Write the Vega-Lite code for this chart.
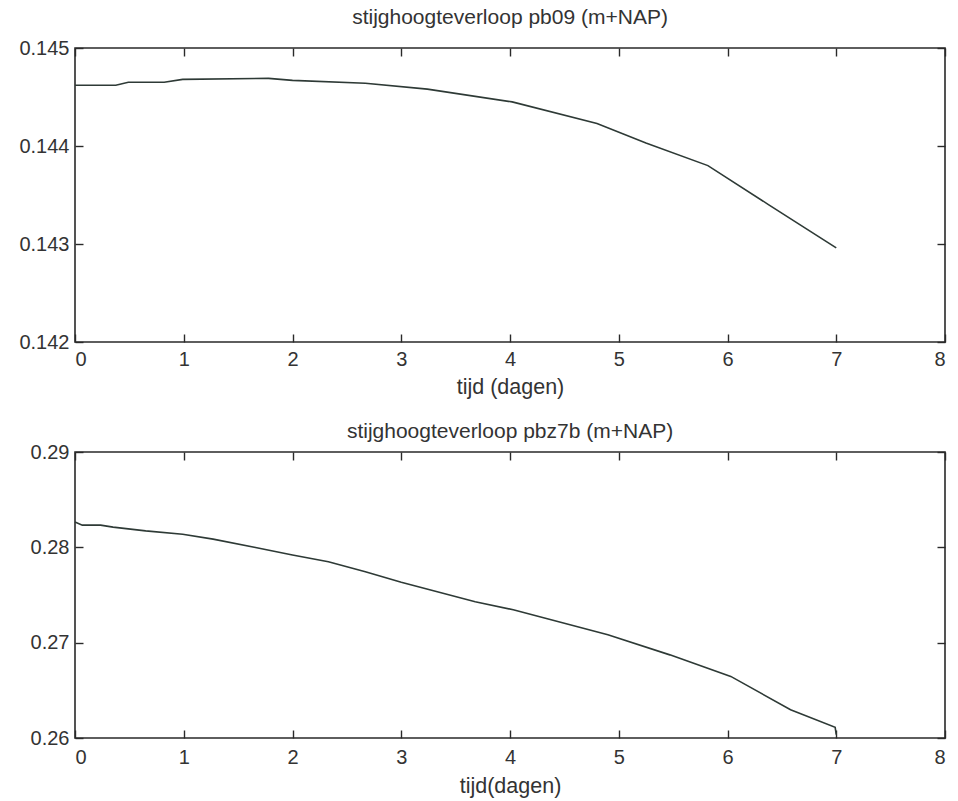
{
  "$schema": "https://vega.github.io/schema/vega-lite/v6.json",
  "padding": {"left": 18, "top": 6, "right": 8, "bottom": 0},
  "background": "white",
  "config": {
    "font": "Liberation Sans",
    "view": {"stroke": "#2a2a2a", "strokeWidth": 1.6},
    "axis": {
      "domain": false,
      "grid": false,
      "tickColor": "#2a2a2a",
      "tickWidth": 1.4,
      "tickSize": -8,
      "labelFont": "Liberation Sans",
      "labelFontSize": 20,
      "labelColor": "#333333",
      "titleFont": "Liberation Sans",
      "titleFontSize": 21.5,
      "titleFontWeight": "normal",
      "titleColor": "#333333"
    },
    "title": {"font": "Liberation Sans", "fontSize": 21, "fontWeight": "normal", "color": "#333333"}
  },
  "datasets": {
    "pb09": [
      {"t": 0.0, "h": 0.14462},
      {"t": 0.375, "h": 0.14462},
      {"t": 0.49, "h": 0.14465},
      {"t": 0.82, "h": 0.14465},
      {"t": 0.99, "h": 0.14468},
      {"t": 1.78, "h": 0.14469},
      {"t": 2.0, "h": 0.14467},
      {"t": 2.67, "h": 0.14464},
      {"t": 3.24, "h": 0.14458},
      {"t": 4.02, "h": 0.14445},
      {"t": 4.8, "h": 0.14423},
      {"t": 5.25, "h": 0.14403},
      {"t": 5.82, "h": 0.1438},
      {"t": 6.38, "h": 0.1434},
      {"t": 7.0, "h": 0.14296}
    ],
    "pbz7b": [
      {"t": 0.0, "h": 0.28265},
      {"t": 0.067, "h": 0.28233},
      {"t": 0.235, "h": 0.28233},
      {"t": 0.35, "h": 0.28212},
      {"t": 0.65, "h": 0.28173},
      {"t": 0.99, "h": 0.28138},
      {"t": 1.27, "h": 0.28086},
      {"t": 1.66, "h": 0.27999},
      {"t": 2.0, "h": 0.27919},
      {"t": 2.33, "h": 0.27849},
      {"t": 2.67, "h": 0.27744},
      {"t": 3.0, "h": 0.27633},
      {"t": 3.68, "h": 0.2743},
      {"t": 4.03, "h": 0.27345},
      {"t": 4.9, "h": 0.27082},
      {"t": 5.47, "h": 0.26872},
      {"t": 6.03, "h": 0.26646},
      {"t": 6.58, "h": 0.26297},
      {"t": 6.99, "h": 0.26112},
      {"t": 7.0, "h": 0.26035}
    ]
  },
  "vconcat": [
    {
      "title": {"text": "stijghoogteverloop pb09 (m+NAP)", "offset": 10},
      "width": 870,
      "height": 294,
      "data": {"name": "pb09"},
      "layer": [
        {
          "mark": {"type": "line", "color": "#2e3a36", "strokeWidth": 1.6},
          "encoding": {
            "x": {"field": "t", "type": "quantitative", "scale": {"domain": [0, 8], "nice": false},
                  "axis": {"orient": "bottom", "values": [0,1,2,3,4,5,6,7,8], "format": "d", "title": "tijd (dagen)", "labelPadding": 15, "titlePadding": 7}},
            "y": {"field": "h", "type": "quantitative", "scale": {"domain": [0.142, 0.145], "zero": false, "nice": false},
                  "axis": {"orient": "left", "values": [0.142, 0.143, 0.144, 0.145], "format": ".3f", "title": null, "labelPadding": 14}}
          }
        },
        {
          "mark": {"type": "line", "opacity": 0},
          "encoding": {
            "x": {"field": "t", "type": "quantitative", "scale": {"domain": [0, 8], "nice": false}, "axis": {"orient": "top", "values": [0,1,2,3,4,5,6,7,8], "labels": false, "title": null}},
            "y": {"field": "h", "type": "quantitative", "scale": {"domain": [0.142, 0.145], "zero": false, "nice": false}, "axis": {"orient": "right", "values": [0.142, 0.143, 0.144, 0.145], "labels": false, "title": null}}
          }
        }
      ],
      "resolve": {"axis": {"x": "independent", "y": "independent"}}
    },
    {
      "title": {"text": "stijghoogteverloop pbz7b (m+NAP)", "offset": 0},
      "width": 870,
      "height": 286,
      "data": {"name": "pbz7b"},
      "layer": [
        {
          "mark": {"type": "line", "color": "#2e3a36", "strokeWidth": 1.6},
          "encoding": {
            "x": {"field": "t", "type": "quantitative", "scale": {"domain": [0, 8], "nice": false},
                  "axis": {"orient": "bottom", "values": [0,1,2,3,4,5,6,7,8], "format": "d", "title": "tijd(dagen)", "labelPadding": 17, "titlePadding": 8}},
            "y": {"field": "h", "type": "quantitative", "scale": {"domain": [0.26, 0.29], "zero": false, "nice": false},
                  "axis": {"orient": "left", "values": [0.26, 0.27, 0.28, 0.29], "format": ".2f", "title": null, "labelPadding": 14}}
          }
        },
        {
          "mark": {"type": "line", "opacity": 0},
          "encoding": {
            "x": {"field": "t", "type": "quantitative", "scale": {"domain": [0, 8], "nice": false}, "axis": {"orient": "top", "values": [0,1,2,3,4,5,6,7,8], "labels": false, "title": null}},
            "y": {"field": "h", "type": "quantitative", "scale": {"domain": [0.26, 0.29], "zero": false, "nice": false}, "axis": {"orient": "right", "values": [0.26, 0.27, 0.28, 0.29], "labels": false, "title": null}}
          }
        }
      ],
      "resolve": {"axis": {"x": "independent", "y": "independent"}}
    }
  ],
  "spacing": 21
}
